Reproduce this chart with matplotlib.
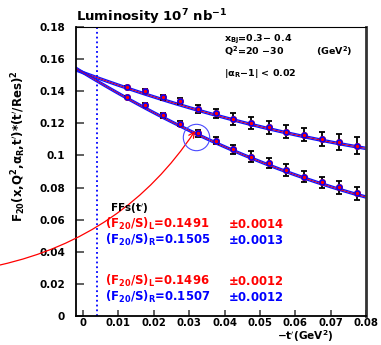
import numpy as np
import matplotlib
matplotlib.use('Agg')
import matplotlib.pyplot as plt

plt.rcParams['font.family'] = ['DejaVu Sans']
plt.rcParams['font.weight'] = 'bold'
plt.rcParams['mathtext.fontset'] = 'dejavusans'
plt.rcParams['mathtext.default'] = 'bf'

# -t' bins
t = [0.0125, 0.0175, 0.0225, 0.0275, 0.0325, 0.0375, 0.0425,
     0.0475, 0.0525, 0.0575, 0.0625, 0.0675, 0.0725, 0.0775]
# upper set
y_up = [0.1427, 0.1404, 0.1362, 0.1340, 0.1290, 0.1263, 0.1227,
        0.1204, 0.1175, 0.1148, 0.1130, 0.1101, 0.1086, 0.1061]
e_up = [0.0005, 0.0008, 0.0015, 0.0018, 0.0025, 0.0028, 0.0038,
        0.0038, 0.0040, 0.0040, 0.0043, 0.0045, 0.0050, 0.0055]
# lower set
y_lo = [0.1364, 0.1317, 0.1250, 0.1198, 0.1138, 0.1092, 0.1038,
        0.0993, 0.0951, 0.0910, 0.0868, 0.0833, 0.0802, 0.0764]
e_lo = [0.0005, 0.0008, 0.0015, 0.0016, 0.0020, 0.0022, 0.0030,
        0.0032, 0.0032, 0.0035, 0.0035, 0.0034, 0.0040, 0.0040]

# fit curves  a + b*t + c*t^2  (L = red, R = blue)
fit_up_L = [2.75, -0.810, 0.1516]
fit_up_R = [2.75, -0.810, 0.1523]
fit_lo_L = [4.64, -1.340, 0.1516]
fit_lo_R = [4.64, -1.340, 0.1523]

t_cut = 0.004
circ_pos = (0.0319, 0.1118)

fig = plt.figure(figsize=(3.81, 3.45), dpi=100)
ax = fig.add_axes([0.1995, 0.0841, 0.7611, 0.8376])

tt = np.linspace(-0.002, 0.08, 100)
for fl, fr in [(fit_up_L, fit_up_R), (fit_lo_L, fit_lo_R)]:
    ax.plot(tt, np.polyval(fl, tt), color='red', lw=0.9, zorder=2)
    ax.plot(tt, np.polyval(fr, tt), color='#1010ff', lw=0.9, zorder=2)
    ax.plot(tt, np.polyval(fl, tt) - 0.0007, color='#1010ff', lw=0.9, zorder=2)

ax.axvline(t_cut, color='blue', ls=':', lw=1.3, zorder=1)

for y, e in [(y_up, e_up), (y_lo, e_lo)]:
    ax.errorbar(t, y, yerr=e, fmt='s', color='black', ms=3, lw=1.3,
                capsize=2.2, capthick=1.3, zorder=3)
    ax.plot(t, y, 'o', color='red', ms=4.0, zorder=4)
    ax.plot(t, y, 'o', mfc='none', mec='blue', mew=1.1, ms=3.6, zorder=5)

ax.plot(*circ_pos, 'o', mfc='none', mec='#4a4aff', mew=0.8, ms=19, zorder=6)

ax.set_xlim(-0.002, 0.08)
ax.set_ylim(0, 0.18)
ax.set_xticks(np.arange(0, 0.081, 0.01))
ax.set_xticklabels(['0', '0.01', '0.02', '0.03', '0.04', '0.05', '0.06', '0.07', '0.08'])
ax.set_yticks(np.arange(0, 0.181, 0.02))
ax.set_yticklabels(['0', '0.02', '0.04', '0.06', '0.08', '0.1', '0.12', '0.14', '0.16', '0.18'])
ax.tick_params(axis='y', direction='in', length=6, width=1.2, color='#444444',
               labelsize=7.5, pad=8)
ax.tick_params(axis='x', direction='in', length=4.5, width=1.2, color='#444444',
               labelsize=7.3, pad=1.5)
for lab in ax.get_xticklabels() + ax.get_yticklabels():
    lab.set_fontweight('bold')
ax.spines['left'].set_linewidth(1.3)
ax.spines['bottom'].set_linewidth(1.3)
ax.spines['top'].set_linewidth(0.8)
ax.spines['right'].set_linewidth(2.0)
ax.spines['right'].set_color('#333333')

# texts (figure pixel positions)
W, H = 381, 345
def ftext(x, y, s, **kw):
    fig.text(x / W, 1 - y / H, s, fontweight='bold', va='baseline', **kw)

ftext(76, 21, r'Luminosity 10$^{7}$ nb$^{-1}$', fontsize=9.5)
ftext(224, 41, r'x$_{Bj}$=0.3$-$ 0.4', fontsize=6.8)
ftext(224, 55, r'Q$^2$=20 $-$30', fontsize=6.8)
ftext(316, 55, r'(GeV$^2$)', fontsize=6.8)
ftext(224, 76, r'|$\alpha_R$$-$1| < 0.02', fontsize=6.8)
ftext(110, 212, r"FFs(t$^\prime$)", fontsize=7.5)
ftext(105, 228, r'(F$_{20}$/S)$_L$=0.1491', fontsize=8.4, color='red')
ftext(228, 228, r'$\pm$0.0014', fontsize=8.4, color='red')
ftext(105, 244, r'(F$_{20}$/S)$_R$=0.1505', fontsize=8.4, color='blue')
ftext(228, 244, r'$\pm$0.0013', fontsize=8.4, color='blue')
ftext(105, 285, r'(F$_{20}$/S)$_L$=0.1496', fontsize=8.4, color='red')
ftext(228, 285, r'$\pm$0.0012', fontsize=8.4, color='red')
ftext(105, 301, r'(F$_{20}$/S)$_R$=0.1507', fontsize=8.4, color='blue')
ftext(228, 301, r'$\pm$0.0012', fontsize=8.4, color='blue')

fig.text(333 / W, 1.5 / H, r"$-$t$^\prime$(GeV$^2$)", fontsize=7.6,
         fontweight='bold', ha='right', va='bottom')
fig.text(19 / W, 1 - 70 / H,
         r"F$_{20}$(x,Q$^2$,$\alpha_R$,t$^\prime$)$*$(t$^\prime$/Res)$^2$",
         fontsize=8.5, fontweight='bold', rotation=90, ha='center', va='top')

# red arc pointing into the circled point
ax.annotate('', xy=(195, 214), xytext=(0, 80), xycoords='figure pixels',
            textcoords='figure pixels', annotation_clip=False,
            arrowprops=dict(arrowstyle='->', color='red', lw=0.9,
                            connectionstyle='arc3,rad=0.2', shrinkA=0, shrinkB=0))

fig.savefig('out.png', dpi=100)
